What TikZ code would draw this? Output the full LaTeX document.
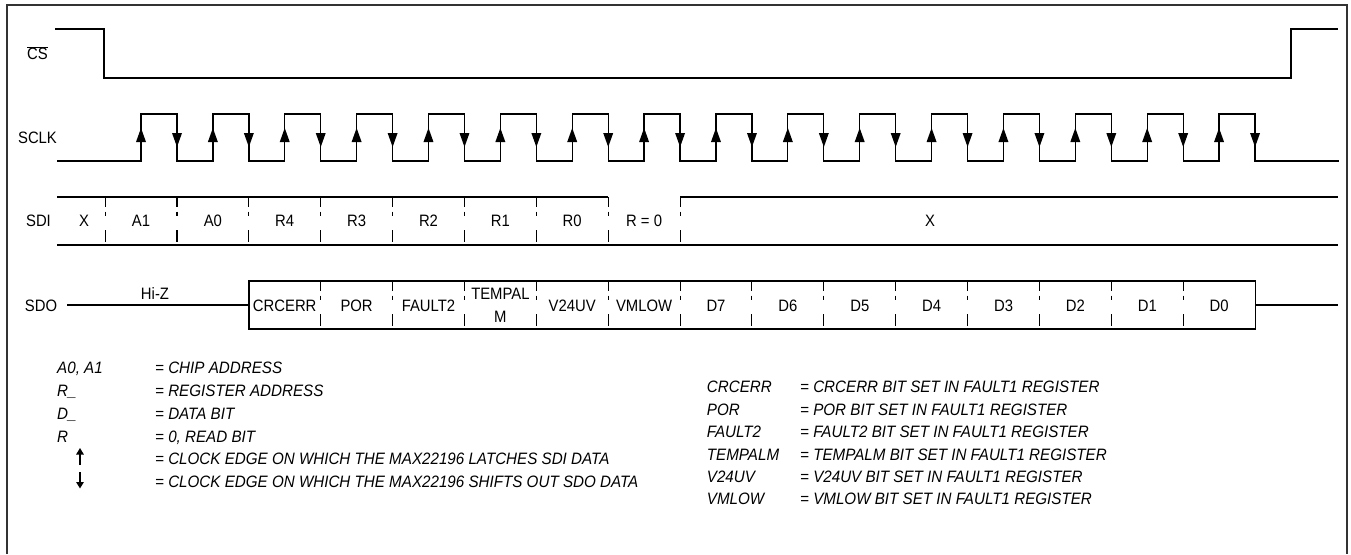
\documentclass[tikz,border=0pt]{standalone}
\usepackage{fontspec}
\setmainfont{Liberation Sans}
\newfontfamily\lblfont{Liberation Sans}[FakeStretch=0.9]
\newfontfamily\legfont{Liberation Sans}[FakeStretch=0.92]
\usetikzlibrary{arrows.meta}
\begin{document}
\begin{tikzpicture}[x=1pt,y=-1pt,
  sig/.style={line width=1.3pt, line join=miter},
  frame/.style={line width=2pt, draw=black!80},
  sepline/.style={line width=1.1pt, dash pattern=on 10pt off 4.5pt on 4.5pt off 14pt on 12pt off 40pt},
  lbl/.style={font=\lblfont\fontsize{16.5}{19}\selectfont, inner sep=0pt, anchor=base},
  leg/.style={font=\legfont\fontsize{16.5}{19}\selectfont\itshape, inner sep=0pt, anchor=base west},
  legarrow/.style={line width=1.2pt, -{Triangle[length=6.5pt,width=7.5pt]}}]
\useasboundingbox (0,0) rectangle (1351,554);
\def\p{71.87}
% frame
\draw[frame] (7,554) -- (7,5) -- (1347,5) -- (1347,554);
% signal names
\node[lbl] (lcs) at (37.5,59.9) {$\overline{\hbox{\lblfont\fontsize{16.5}{19}\selectfont CS}}$};
\node[lbl] (lsclk) at (37.5,143.4) {SCLK};
\node[lbl] (lsdi) at (38.5,226.9) {SDI};
\node[lbl] (lsdo) at (41,311.9) {SDO};
% CS
\draw[sig] (55,29) -- (104,29) -- (104,78) -- (1291,78) -- (1291,29) -- (1338,29);
% SCLK
\draw[sig] (57,161) foreach \k in {0,...,15} { -- ({141+\k*\p},161) -- ({141+\k*\p},114) -- ({177+\k*\p},114) -- ({177+\k*\p},161) } -- (1339,161);
\foreach \k in {0,...,15} {
  \pgfmathsetmacro\xr{141+\k*\p}
  \pgfmathsetmacro\xf{177+\k*\p}
  \fill ({\xr-5},142) -- ({\xr+5},142) -- (\xr,128) -- cycle;
  \fill ({\xf-5},133) -- ({\xf+5},133) -- (\xf,147) -- cycle;
}
% SDI
\draw[sig] (57,197) -- (608,197);
\draw[sig] (680,197) -- (1338,197);
\draw[sig] (57,245) -- (1338,245);
\foreach \k in {0,...,8} {
  \draw[sepline] ({105.1+\k*\p},197) -- ({105.1+\k*\p},245);
}
\node[lbl] (sx) at (84,226.9) {X};
\node[lbl] (sa1) at (141,226.9) {A1};
\node[lbl] (sa0) at (212.9,226.9) {A0};
\node[lbl] (sr4) at (284.7,226.9) {R4};
\node[lbl] (sr3) at (356.6,226.9) {R3};
\node[lbl] (sr2) at (428.5,226.9) {R2};
\node[lbl] (sr1) at (500.4,226.9) {R1};
\node[lbl] (sr0) at (572.2,226.9) {R0};
\node[lbl] (srr) at (644.1,226.9) {R = 0};
\node[lbl] (sxx) at (930,226.9) {X};
% SDO
\draw[sig] (67,305) -- (248.9,305);
\draw[sig] (248.9,281) rectangle (1255.2,329);
\draw[sig] (1255.2,305) -- (1338,305);
\foreach \k in {0,...,12} {
  \draw[sepline] ({320.7+\k*\p},281) -- ({320.7+\k*\p},329);
}
\node[lbl] (hiz) at (155,299.4) {Hi-Z};
\node[lbl] (o1) at (284.7,311.9) {CRCERR};
\node[lbl] (o2) at (356.6,311.9) {POR};
\node[lbl] (o3) at (428.5,311.9) {FAULT2};
\node[lbl] (o4a) at (500.4,299.9) {TEMPAL};
\node[lbl] (o4b) at (500.4,322.9) {M};
\node[lbl] (o5) at (572.2,311.9) {V24UV};
\node[lbl] (o6) at (644.1,311.9) {VMLOW};
\node[lbl] (d7) at (716,311.9) {D7};
\node[lbl] (d6) at (787.9,311.9) {D6};
\node[lbl] (d5) at (859.8,311.9) {D5};
\node[lbl] (d4) at (931.7,311.9) {D4};
\node[lbl] (d3) at (1003.6,311.9) {D3};
\node[lbl] (d2) at (1075.4,311.9) {D2};
\node[lbl] (d1) at (1147.3,311.9) {D1};
\node[lbl] (d0) at (1219.2,311.9) {D0};
% left legend
\node[leg] (la) at (57,373.4) {A0, A1};
\node[leg] (lb) at (57,396.4) {R\_};
\node[leg] (lc) at (57,419.4) {D\_};
\node[leg] (ld) at (57,442.4) {R};
\draw[legarrow] (80,465) -- (80,448);
\draw[legarrow] (80,472) -- (80,488.5);
\node[leg] (ta) at (155,373.4) {= CHIP ADDRESS};
\node[leg] (tb) at (155,396.4) {= REGISTER ADDRESS};
\node[leg] (tc) at (155,419.4) {= DATA BIT};
\node[leg] (td) at (155,442.4) {= 0, READ BIT};
\node[leg] (te) at (155,464.9) {= CLOCK EDGE ON WHICH THE MAX22196 LATCHES SDI DATA};
\node[leg] (tf) at (155,487.4) {= CLOCK EDGE ON WHICH THE MAX22196 SHIFTS OUT SDO DATA};
% right legend
\node[leg] (ra) at (706.7,392.6) {CRCERR};
\node[leg] (rb) at (706.7,415.6) {POR};
\node[leg] (rc) at (706.7,437.9) {FAULT2};
\node[leg] (rd) at (706.7,460.4) {TEMPALM};
\node[leg] (re) at (706.7,482.6) {V24UV};
\node[leg] (rf) at (706.7,504.2) {VMLOW};
\node[leg] (qa) at (800,392.6) {= CRCERR BIT SET IN FAULT1 REGISTER};
\node[leg] (qb) at (800,415.6) {= POR BIT SET IN FAULT1 REGISTER};
\node[leg] (qc) at (800,437.9) {= FAULT2 BIT SET IN FAULT1 REGISTER};
\node[leg] (qd) at (800,460.4) {= TEMPALM BIT SET IN FAULT1 REGISTER};
\node[leg] (qe) at (800,482.6) {= V24UV BIT SET IN FAULT1 REGISTER};
\node[leg] (qf) at (800,504.2) {= VMLOW BIT SET IN FAULT1 REGISTER};
\end{tikzpicture}
\end{document}
